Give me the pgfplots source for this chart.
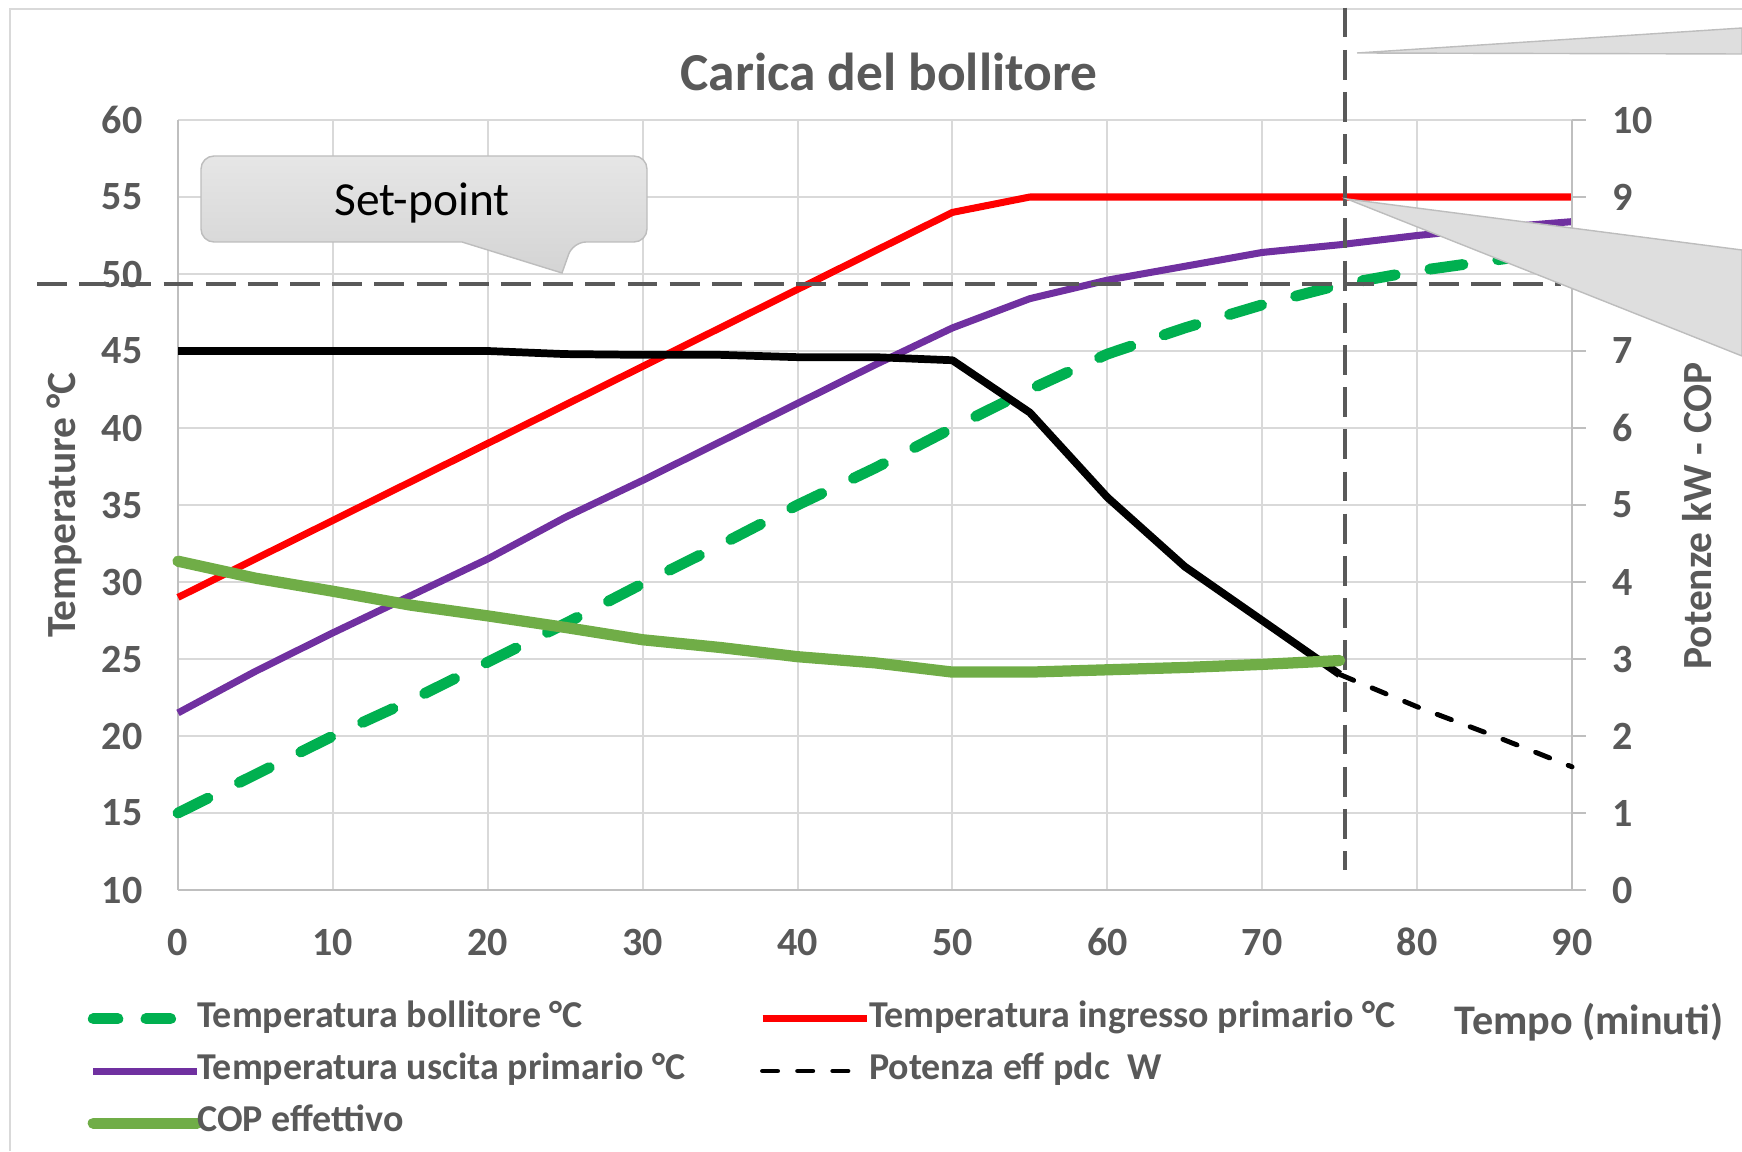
\documentclass[border=0pt]{standalone}
\usepackage{fontspec}
\setmainfont{Carlito}
\usepackage{pgfplots}
\pgfplotsset{compat=1.18}
\definecolor{txtgray}{HTML}{595959}
\definecolor{gridgray}{HTML}{D9D9D9}
\definecolor{axgray}{HTML}{BFBFBF}
\definecolor{bollgreen}{HTML}{00B050}
\definecolor{copgreen}{HTML}{70AD47}
\definecolor{uscpurple}{HTML}{7030A0}
\definecolor{calltop}{HTML}{E6E6E6}
\definecolor{callbot}{HTML}{D4D4D4}
\definecolor{callfill}{HTML}{DEDEDE}
\definecolor{callborder}{HTML}{BDBDBD}

\pgfplotsset{
  base/.style={
    at={(1.78cm,2.61cm)}, anchor=south west,
    scale only axis, width=13.94cm, height=7.70cm,
    xmin=0, xmax=90, clip=false,
    /pgf/number format/assume math mode=true,
    ticklabel style={font=\bfseries\fontsize{11.4}{13}\selectfont, text=txtgray},
  }
}

\begin{document}
\begin{tikzpicture}
\path[use as bounding box] (0,0) rectangle (17.42,11.51);
\draw[gridgray, line width=0.5pt] (0.10,0) -- (0.10,11.42) -- (17.42,11.42);

\begin{axis}[base,
  ymin=10, ymax=60,
  xtick={0,10,...,90}, ytick={10,15,...,60},
  grid=major, major grid style={gridgray, line width=0.6pt},
  axis x line*=bottom, axis y line*=left,
  axis line style={axgray, line width=0.7pt, -},
  tick style={draw=none},
  xticklabel style={anchor=center, yshift=-0.52cm},
  yticklabel style={anchor=east, xshift=-0.23cm},
  title={Carica del bollitore},
  title style={at={(axis description cs:0.51,1.035)}, anchor=center, font=\bfseries\fontsize{15.2}{18}\selectfont, text=txtgray},
  xlabel={Tempo (minuti)},
  xlabel style={at={(axis description cs:1.0122,-0.171)}, anchor=center, font=\bfseries\fontsize{12}{14}\selectfont, text=txtgray},
  ylabel={Temperature °C},
  ylabel style={at={(axis description cs:-0.0818,0.5)}, anchor=center, font=\bfseries\fontsize{11.8}{14}\selectfont, text=txtgray},
]
% Temperatura bollitore
\addplot[bollgreen, line width=3.1pt, dash pattern=on 9.5pt off 10pt, line cap=round, line join=round] coordinates {
(0,15) (5,17.5) (10,20) (15,22.3) (20,24.8) (25,27.3) (30,29.9) (35,32.4) (40,35) (45,37.4) (50,40) (55,42.5) (60,44.8) (65,46.5) (70,48) (75,49.3) (80,50.2) (85,50.9) (90,51.6)};
% Temperatura ingresso primario
\addplot[red, line width=2pt, line join=round] coordinates {
(0,29) (5,31.5) (10,34) (15,36.5) (20,39) (25,41.5) (30,44) (35,46.5) (40,49) (45,51.5) (50,54) (55,55) (60,55) (65,55) (70,55) (75,55) (80,55) (85,55) (90,55)};
% Temperatura uscita primario
\addplot[uscpurple, line width=2pt, line join=round] coordinates {
(0,21.5) (5,24.2) (10,26.7) (15,29.1) (20,31.5) (25,34.2) (30,36.6) (35,39.1) (40,41.6) (45,44.1) (50,46.5) (55,48.4) (60,49.6) (65,50.5) (70,51.4) (75,51.9) (80,52.5) (85,53) (90,53.4)};
% set-point lines
\draw[txtgray, line width=0.9pt, dash pattern=on 8.5pt off 3.5pt] (axis cs:-9.1,49.35) -- (axis cs:89.3,49.35);
\draw[txtgray, line width=0.9pt, dash pattern=on 8.5pt off 3.5pt] (axis cs:75.34,67.3) -- (axis cs:75.34,11.3);
\end{axis}

\begin{axis}[base,
  ymin=0, ymax=10, ytick={0,1,...,10},
  axis x line=none, axis y line*=right,
  axis line style={axgray, line width=0.7pt, -},
  ytick style={axgray, line width=0.7pt},
  tick align=outside, major tick length=0.14cm,
  yticklabel style={anchor=west, xshift=0.14cm},
  ylabel={Potenze kW - COP},
  ylabel style={at={(axis description cs:1.0897,0.486)}, anchor=center, font=\bfseries\fontsize{11.8}{14}\selectfont, text=txtgray},
  legend columns=2,
  legend cell align=left,
  legend style={at={(axis description cs:-0.0653,-0.139)}, anchor=north west, draw=none, fill=none,
    font=\bfseries\fontsize{10.8}{12}\selectfont, text=txtgray,
    inner sep=0pt, row sep=0.10cm,
    nodes={inner sep=1pt, text height=7.5pt, text depth=2.5pt},
    /tikz/column 1/.style={column sep=-0.09cm},
    /tikz/column 2/.style={column sep=0.70cm},
    /tikz/column 3/.style={column sep=-0.045cm}},
  legend image code/.code={\draw[#1] (0cm,0cm) -- (1.04cm,0cm);},
]
\addlegendimage{bollgreen, line width=3.1pt, dash pattern=on 7pt off 8pt, line cap=round}
\addlegendentry{Temperatura bollitore °C}
\addlegendimage{red, line width=2pt}
\addlegendentry{Temperatura ingresso primario °C}
\addlegendimage{uscpurple, line width=2pt}
\addlegendentry{Temperatura uscita primario °C}
% Potenza (solid part)
\addplot[black, line width=2.2pt, line join=round, forget plot] coordinates {
(0,7) (5,7) (10,7) (15,7) (20,7) (25,6.96) (30,6.95) (35,6.95) (40,6.92) (45,6.92) (50,6.88) (55,6.2) (60,5.1) (65,4.2) (70,3.5) (75,2.8)};
% Potenza eff pdc W
\addplot[black, line width=1.4pt, dash pattern=on 4.3pt off 5.7pt, line cap=round] coordinates {
(75,2.8) (80,2.38) (85,2.0) (90,1.6)};
\addlegendentry{Potenza eff pdc\ \ W}
% COP effettivo
\addplot[copgreen, line width=3.2pt, line cap=round, line join=round] coordinates {
(0,4.27) (5,4.05) (10,3.88) (15,3.7) (20,3.56) (25,3.41) (30,3.25) (35,3.15) (40,3.03) (45,2.95) (50,2.83) (55,2.83) (60,2.86) (65,2.89) (70,2.93) (75,2.98)};
\addlegendentry{COP effettivo}
\end{axis}

% callouts
\draw[callborder, line width=0.4pt, top color=calltop, bottom color=callbot, rounded corners=0.13cm]
  (2.01,9.95) -- (6.47,9.95) -- (6.47,9.09) -- (5.73,9.09) [sharp corners] -- (5.62,8.78) -- (4.62,9.09) [rounded corners=0.13cm] -- (2.01,9.09) -- cycle;
\node[font=\fontsize{13.5}{16}\selectfont, text=black] at (4.22,9.48) {Set-point};
\fill[callfill, draw=callborder, line width=0.4pt] (13.57,10.98) -- (17.42,11.23) -- (17.42,10.97) -- cycle;
\fill[callfill, draw=callborder, line width=0.4pt] (13.47,9.52) -- (17.42,9.01) -- (17.42,7.95) -- cycle;
\end{tikzpicture}
\end{document}
